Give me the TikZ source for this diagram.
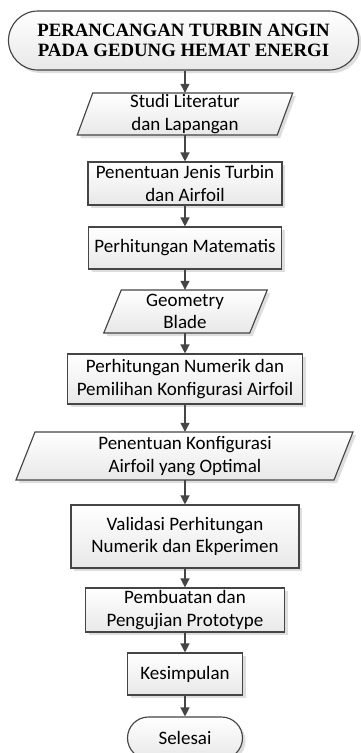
\documentclass[tikz,border=0pt]{standalone}
\usepackage{fontspec}
\setmainfont{Carlito}
\newfontfamily\titlefont{Liberation Serif}
\usetikzlibrary{arrows.meta,shadows}
\definecolor{edgecol}{HTML}{454545}
\definecolor{shadecol}{HTML}{DEDEDE}
\tikzset{
  shp/.style={draw=edgecol, line width=1.15pt, top color=white, bottom color=black!9},
  sh/.style={drop shadow={shadow xshift=3pt, shadow yshift=-3pt, fill=shadecol, opacity=1}},
  txt/.style={font=\fontsize{19}{22.5}\selectfont, align=center, text=black, inner sep=0pt},
  box/.style={shp, sh, txt, rectangle},
  holder/.style={txt, rectangle},
  arr/.style={draw=edgecol, line width=1.3pt, -{Triangle[length=9pt,width=9pt]}},
}
\newcommand\para[6]{% cx cy hw hh slant
  \path[shp, sh] ({#1-#3+#5/2},{#2-#4}) -- ({#1+#3+#5/2},{#2-#4}) -- ({#1+#3-#5/2},{#2+#4}) -- ({#1-#3-#5/2},{#2+#4}) -- cycle;
}
\begin{document}
\begin{tikzpicture}[x=1pt,y=-1pt]
\useasboundingbox (0,0) rectangle (360,753);
\fill[white] (0,0) rectangle (360,753);
% start
\node[box, rounded corners=29.5pt, minimum width=350pt, minimum height=59pt,
  font=\titlefont\bfseries\fontsize{18.8}{20.5}\selectfont] (start) at (183.5,40.5)
  {PERANCANGAN TURBIN ANGIN\\PADA GEDUNG HEMAT ENERGI};
% p1
\para{185}{114}{100}{21}{15.5}{}
\node[holder, minimum width=200pt, minimum height=42pt] (p1) at (185,114) {Studi Literatur\\dan Lapangan};
\node[box, minimum width=194pt, minimum height=43pt] (b2) at (185,183.5) {Penentuan Jenis Turbin\\dan Airfoil};
\node[box, minimum width=193pt, minimum height=42pt] (b3) at (185,248) {Perhitungan Matematis};
\para{185.5}{311.5}{73}{21.5}{17.5}{}
\node[holder, minimum width=146pt, minimum height=43pt] (p2) at (185,311.5) {Geometry\\Blade};
\node[box, minimum width=235pt, minimum height=50pt] (b4) at (185,379) {Perhitungan Numerik dan\\Pemilihan Konfigurasi Airfoil};
\para{184.5}{456}{159}{24}{19}{}
\node[holder, minimum width=318pt, minimum height=48pt] (p3) at (185,456) {Penentuan Konfigurasi\\Airfoil yang Optimal};
\node[box, minimum width=228pt, minimum height=63pt] (b5) at (185,536.5) {Validasi Perhitungan\\Numerik dan Ekperimen};
\node[box, minimum width=199pt, minimum height=44pt] (b6) at (185,610) {Pembuatan dan\\Pengujian Prototype};
\node[box, minimum width=115pt, minimum height=42pt] (b7) at (185,674) {Kesimpulan};
\node[box, rounded corners=21pt, minimum width=115pt, minimum height=42pt] (end) at (185,738) {Selesai};
% connectors
\draw[arr] (start.south -| p1.north) -- (p1.north);
\draw[arr] (p1.south) -- (b2.north);
\draw[arr] (b2.south) -- (b3.north);
\draw[arr] (b3.south) -- (p2.north);
\draw[arr] (p2.south) -- (b4.north);
\draw[arr] (b4.south) -- (p3.north);
\draw[arr] (p3.south) -- (b5.north);
\draw[arr] (b5.south) -- (b6.north);
\draw[arr] (b6.south) -- (b7.north);
\draw[arr] (b7.south) -- (end.north);
\end{tikzpicture}
\end{document}
